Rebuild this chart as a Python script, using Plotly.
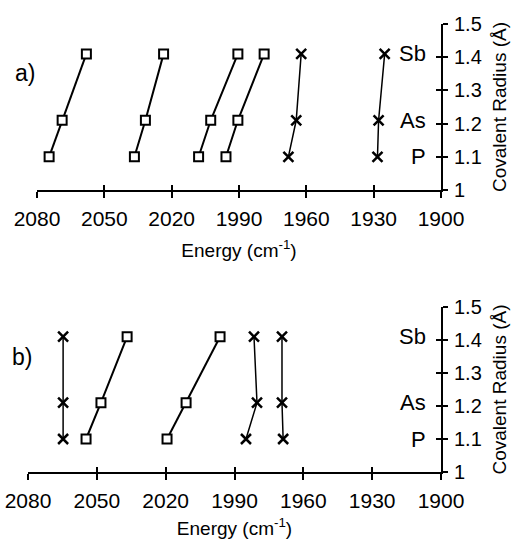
import plotly.graph_objects as go

W, H = 514, 539
FONT = "Liberation Sans, Arial, sans-serif"

# Covalent radii (Å) for P, As, Sb
elements = ["P", "As", "Sb"]
radius = [1.10, 1.21, 1.41]

# Panel a) energies (cm^-1) for P, As, Sb
a_sq1 = [2074.6, 2068.8, 2058.0]
a_sq2 = [2036.6, 2031.7, 2023.6]
a_sq3 = [2008.0, 2002.6, 1990.5]
a_sq4 = [1995.8, 1990.5, 1978.8]
a_x1 = [1968.0, 1964.5, 1962.3]
a_x2 = [1928.3, 1927.8, 1925.1]

# Panel b)
b_x1 = [2064.7, 2064.7, 2064.7]
b_sq1 = [2054.7, 2048.2, 2036.8]
b_sq2 = [2019.4, 2011.1, 1996.3]
b_x2 = [1985.0, 1980.2, 1981.5]
b_x3 = [1968.8, 1969.3, 1969.3]

x_ticks = [2080, 2050, 2020, 1990, 1960, 1930, 1900]
y_ticks = [1.0, 1.1, 1.2, 1.3, 1.4, 1.5]
y_ticktext = ["1", "1.1", "1.2", "1.3", "1.4", "1.5"]

fig = go.Figure()

def sq(xs, xa, ya):
    fig.add_trace(go.Scatter(
        x=xs, y=radius, xaxis=xa, yaxis=ya, mode="lines+markers",
        line=dict(color="black", width=2),
        marker=dict(symbol="square", size=9, color="white",
                    line=dict(color="black", width=2)),
        showlegend=False, hoverinfo="x+y"))

def xs_(xs, xa, ya):
    fig.add_trace(go.Scatter(
        x=xs, y=radius, xaxis=xa, yaxis=ya, mode="lines+markers",
        line=dict(color="black", width=1.5),
        marker=dict(symbol="x-thin-open", size=10, color="black",
                    line=dict(color="black", width=2.5)),
        showlegend=False, hoverinfo="x+y"))

for s in [a_sq1, a_sq2, a_sq3, a_sq4]:
    sq(s, "x", "y")
for s in [a_x1, a_x2]:
    xs_(s, "x", "y")
for s in [b_sq1, b_sq2]:
    sq(s, "x2", "y2")
for s in [b_x1, b_x2, b_x3]:
    xs_(s, "x2", "y2")

# invisible traces to activate overlay axes (inside ticks)
fig.add_trace(go.Scatter(x=[2000], y=[1.2], xaxis="x3", yaxis="y3", mode="markers",
                         marker=dict(opacity=0), showlegend=False, hoverinfo="skip"))
fig.add_trace(go.Scatter(x=[2000], y=[1.2], xaxis="x4", yaxis="y4", mode="markers",
                         marker=dict(opacity=0), showlegend=False, hoverinfo="skip"))

def px_x(p):
    return p / W

def px_y(p):
    return 1 - p / H

xa_dom = [px_x(37), px_x(441)]
xb_dom = [px_x(28), px_x(441)]
ya_dom = [px_y(190), px_y(24)]
yb_dom = [px_y(472), px_y(307)]

tickfont = dict(family=FONT, size=21, color="black")

def xaxis(dom, anchor, title, standoff):
    return dict(domain=dom, range=[2080, 1900], anchor=anchor, automargin=False,
                tickvals=x_ticks, ticktext=[str(v) for v in x_ticks],
                ticks="outside", ticklen=6, tickwidth=1.5, tickcolor="black",
                showline=True, linecolor="black", linewidth=2,
                showgrid=False, zeroline=False, tickfont=tickfont,
                ticklabelstandoff=3,
                title=dict(text=title, font=dict(family=FONT, size=19, color="black"),
                           standoff=standoff))

def xover(dom, anchor):
    return dict(domain=dom, anchor=anchor, range=[2080, 1900],
                automargin=False,
                tickvals=x_ticks, ticks="inside", ticklen=5, tickwidth=1.5,
                tickcolor="black", showticklabels=False, showline=False,
                showgrid=False, zeroline=False)

def yaxis(dom, anchor, title):
    return dict(domain=dom, range=[1, 1.5], anchor=anchor, side="right",
                automargin=False,
                tickvals=y_ticks, ticktext=y_ticktext,
                ticks="outside", ticklen=5, tickwidth=1.5, tickcolor="black",
                showline=True, linecolor="black", linewidth=2,
                showgrid=False, zeroline=False, ticklabelstandoff=2,
                tickfont=dict(family=FONT, size=20, color="black"),
                title=dict(text=title, font=dict(family=FONT, size=19, color="black"),
                           standoff=12))

def yover(dom, anchor):
    return dict(domain=dom, anchor=anchor, side="right",
                automargin=False,
                range=[1, 1.5], tickvals=y_ticks, ticks="inside", ticklen=5,
                tickwidth=1.5, tickcolor="black", showticklabels=False,
                showline=False, showgrid=False, zeroline=False)

etitle = "Energy (cm<sup>-1</sup>)"
rtitle = "Covalent Radius (Å)"

fig.update_layout(
    width=W, height=H, margin=dict(l=0, r=0, t=0, b=0, autoexpand=False),
    paper_bgcolor="white", plot_bgcolor="rgba(0,0,0,0)",
    font=dict(family=FONT, color="black"),
    xaxis=xaxis(xa_dom, "y", etitle, 14),
    yaxis=yaxis(ya_dom, "x", rtitle),
    xaxis2=xaxis(xb_dom, "y2", etitle, 12),
    yaxis2=yaxis(yb_dom, "x2", rtitle),
    xaxis3=xover(xa_dom, "y3"),
    yaxis3=yover(ya_dom, "x3"),
    xaxis4=xover(xb_dom, "y4"),
    yaxis4=yover(yb_dom, "x4"),
)

# element labels
for yref in ["y", "y2"]:
    for el, r in zip(elements, radius):
        fig.add_annotation(text=el, xref="paper", x=px_x(428), xanchor="right",
                           yref=yref, y=r, yanchor="middle", showarrow=False,
                           font=dict(family=FONT, size=22, color="black"))

fig.add_annotation(text="a)", xref="paper", yref="paper", x=px_x(13), y=px_y(73),
                   xanchor="left", yanchor="middle", showarrow=False,
                   font=dict(family=FONT, size=23, color="black"))
fig.add_annotation(text="b)", xref="paper", yref="paper", x=px_x(10), y=px_y(357),
                   xanchor="left", yanchor="middle", showarrow=False,
                   font=dict(family=FONT, size=23, color="black"))

fig.write_html("out.html")
